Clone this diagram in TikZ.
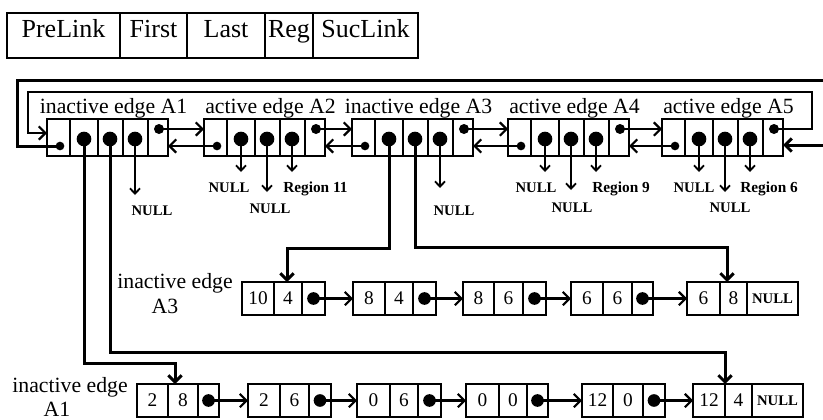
\documentclass[tikz,border=0pt]{standalone}
\usepackage{fontspec}
\setmainfont{Liberation Serif}
\usetikzlibrary{arrows.meta}
\newdimen\pxu \pxu=0.75pt

\tikzset{
  cellbox/.style={draw, line width=0.9pt, inner sep=0pt, outer sep=0pt, anchor=north west},
  bigdot/.style={circle, fill, draw=none, inner sep=0pt, outer sep=0pt, minimum size=11pt},
  predot/.style={circle, fill, draw=none, inner sep=0pt, outer sep=0pt, minimum size=6.5pt},
  sucdot/.style={circle, fill, draw=none, inner sep=0pt, outer sep=0pt, minimum size=7.5pt},
  listdot/.style={circle, fill, draw=none, inner sep=0pt, outer sep=0pt, minimum size=9.5pt},
  tabtxt/.style={font=\fontsize{19.5}{22}\selectfont, text height=14pt, text depth=11pt, line width=1pt},
  lbl/.style={font=\fontsize{16.3}{18}\selectfont, inner sep=0pt, anchor=base},
  num/.style={font=\fontsize{14.5}{16}\selectfont},
  nulltxt/.style={font=\fontsize{11}{13}\selectfont\bfseries, inner sep=0pt, anchor=base},
  regtxt/.style={font=\fontsize{11.5}{13}\selectfont\bfseries, inner sep=0pt, anchor=base west},
  bigarr/.style={line width=1.6pt, -{Straight Barb[length=5pt,width=10pt]}},
  smarr/.style={line width=1.4pt, -{Straight Barb[length=4pt,width=7.5pt]}},
  tkarr/.style={line width=2.25pt, -{Straight Barb[length=5pt,width=10pt]}},
}

\newcommand\mkrec[2]{%
  \node[cellbox,minimum width=23*\pxu,minimum height=37*\pxu] (#1p) at (#2,119) {};
  \node[cellbox,minimum width=28*\pxu,minimum height=37*\pxu] (#1f) at (#2+23,119) {};
  \node[cellbox,minimum width=25*\pxu,minimum height=37*\pxu] (#1l) at (#2+51,119) {};
  \node[cellbox,minimum width=25*\pxu,minimum height=37*\pxu] (#1r) at (#2+76,119) {};
  \node[cellbox,minimum width=20*\pxu,minimum height=37*\pxu] (#1s) at (#2+101,119) {};
  \node[predot] (#1pd) at (#2+13,146) {};
  \node[bigdot] (#1fd) at (#2+37,139) {};
  \node[bigdot] (#1ld) at (#2+63,139) {};
  \node[bigdot] (#1rd) at (#2+88,139) {};
  \node[sucdot] (#1sd) at (#2+112,129) {};
}

\newcommand\mkbox[8]{%
  \node[cellbox,num,minimum width=(#3-#2)*\pxu,minimum height=33*\pxu] (#1a) at (#2,#6) {#7};
  \node[cellbox,num,minimum width=(#4-#3)*\pxu,minimum height=33*\pxu] (#1b) at (#3,#6) {#8};
  \node[cellbox,minimum width=(#5-#4)*\pxu,minimum height=33*\pxu] (#1c) at (#4,#6) {};
  \node[listdot] (#1d) at (#1c.center) {};
}

\newcommand\mklast[8]{%
  \node[cellbox,num,minimum width=(#3-#2)*\pxu,minimum height=33*\pxu] (#1a) at (#2,#6) {#7};
  \node[cellbox,num,minimum width=(#4-#3)*\pxu,minimum height=33*\pxu] (#1b) at (#3,#6) {#8};
  \node[cellbox,font=\fontsize{11}{13}\selectfont\bfseries,minimum width=(#5-#4)*\pxu,minimum height=33*\pxu] (#1c) at (#4,#6) {NULL};
}

\begin{document}
\begin{tikzpicture}[x=0.75pt,y=-0.75pt]
\useasboundingbox (0,0) rectangle (823,419);

% legend table
\node[cellbox,tabtxt,minimum width=113*\pxu,minimum height=45*\pxu] (tPre) at (7,13) {PreLink};
\node[cellbox,tabtxt,minimum width=67*\pxu,minimum height=45*\pxu] (tFirst) at (120,13) {First};
\node[cellbox,tabtxt,minimum width=78*\pxu,minimum height=45*\pxu] (tLast) at (187,13) {Last};
\node[cellbox,tabtxt,minimum width=48*\pxu,minimum height=45*\pxu] (tReg) at (265,13) {Reg};
\node[cellbox,tabtxt,minimum width=105*\pxu,minimum height=45*\pxu] (tSuc) at (313,13) {SucLink};

% main records
\mkrec{A1}{47}
\mkrec{A2}{204}
\mkrec{A3}{352}
\mkrec{A4}{508}
\mkrec{A5}{662}

\node[lbl] (lA1) at (113.5,113) {inactive edge A1};
\node[lbl] (lA2) at (270.5,113) {active edge A2};
\node[lbl] (lA3) at (418.5,113) {inactive edge A3};
\node[lbl] (lA4) at (574.5,113) {active edge A4};
\node[lbl] (lA5) at (728.5,113) {active edge A5};

% forward / backward links
\foreach \a/\b in {A1/A2,A2/A3,A3/A4,A4/A5}{
  \draw[bigarr] (\a sd.center) -- (\a sd.center -| \b p.west);
  \draw[bigarr] (\b pd.center) -- (\b pd.center -| \a s.east);
}

% outer loop (PreLink of A1 -> A5)
\coordinate (o1) at (17,80);
\coordinate (o2) at (832,145);
\draw[tkarr] (A1pd.center) -| (o1) -- (o1 -| o2) -- (o2) -- (o2 -| A5s.east);

% inner loop (SucLink of A5 -> A1)
\coordinate (i1) at (812,92);
\coordinate (i2) at (28,133);
\draw[bigarr] (A5sd.center) -| (i1) -| (i2) -- (i2 -| A1p.west);

% NULL / Region pointers
\node[nulltxt] (nA1r) at (152,215) {NULL};
\draw[smarr] (A1rd.center) -- (A1rd.center |- 0,195);

\node[nulltxt] (nA2f) at (229,192) {NULL};
\node[nulltxt] (nA2l) at (270,213) {NULL};
\node[regtxt]  (nA2r) at (283,192) {Region 11};
\draw[smarr] (A2fd.center) -- (A2fd.center |- 0,172);
\draw[smarr] (A2ld.center) -- (A2ld.center |- 0,192);
\draw[smarr] (A2rd.center) -- (A2rd.center |- 0,172);

\node[nulltxt] (nA3r) at (454,215) {NULL};
\draw[smarr] (A3rd.center) -- (A3rd.center |- 0,188);

\node[nulltxt] (nA4f) at (536,192) {NULL};
\node[nulltxt] (nA4l) at (572,212) {NULL};
\node[regtxt]  (nA4r) at (592,192) {Region 9};
\draw[smarr] (A4fd.center) -- (A4fd.center |- 0,172);
\draw[smarr] (A4ld.center) -- (A4ld.center |- 0,190);
\draw[smarr] (A4rd.center) -- (A4rd.center |- 0,172);

\node[nulltxt] (nA5f) at (694,192) {NULL};
\node[nulltxt] (nA5l) at (730,212) {NULL};
\node[regtxt]  (nA5r) at (740,192) {Region 6};
\draw[smarr] (A5fd.center) -- (A5fd.center |- 0,172);
\draw[smarr] (A5ld.center) -- (A5ld.center |- 0,192);
\draw[smarr] (A5rd.center) -- (A5rd.center |- 0,172);

% inactive edge A3 list
\node[lbl] (l3a) at (175,288) {inactive edge};
\node[lbl] (l3b) at (165,313) {A3};
\mkbox{B1}{242}{274}{302}{325}{282}{10}{4}
\mkbox{B2}{353}{385}{413}{436}{282}{8}{4}
\mkbox{B3}{463}{494}{523}{546}{282}{8}{6}
\mkbox{B4}{571}{603}{632}{653}{282}{6}{6}
\mklast{B5}{687}{720}{747}{798}{282}{6}{8}
\foreach \a/\b in {B1/B2,B2/B3,B3/B4,B4/B5}{
  \draw[bigarr] (\a d.center) -- (\a d.center -| \b a.west);
}

% inactive edge A1 list
\node[lbl] (l1a) at (70,392) {inactive edge};
\node[lbl] (l1b) at (57,416) {A1};
\mkbox{C1}{137}{168}{198}{219}{384}{2}{8}
\mkbox{C2}{248}{280}{309}{331}{384}{2}{6}
\mkbox{C3}{357}{390}{418}{441}{384}{0}{6}
\mkbox{C4}{466}{499}{527}{548}{384}{0}{0}
\mkbox{C5}{582}{613}{643}{665}{384}{12}{0}
\mklast{C6}{693}{725}{752}{803}{384}{12}{4}
\foreach \a/\b in {C1/C2,C2/C3,C3/C4,C4/C5,C5/C6}{
  \draw[bigarr] (\a d.center) -- (\a d.center -| \b a.west);
}

% pointers from records to lists
\coordinate (j1) at (175,363);
\coordinate (j2) at (725,352);
\coordinate (j3) at (287,248);
\coordinate (j4) at (727,247);
\draw[tkarr] (A1fd.center) |- (j1) -- (j1 |- C1a.north);
\draw[tkarr] (A1ld.center) |- (j2) -- (j2 |- C6a.north);
\draw[tkarr] (A3fd.center) |- (j3) -- (j3 |- B1a.north);
\draw[tkarr] (A3ld.center) |- (j4) -- (j4 |- B5a.north);

\end{tikzpicture}
\end{document}
